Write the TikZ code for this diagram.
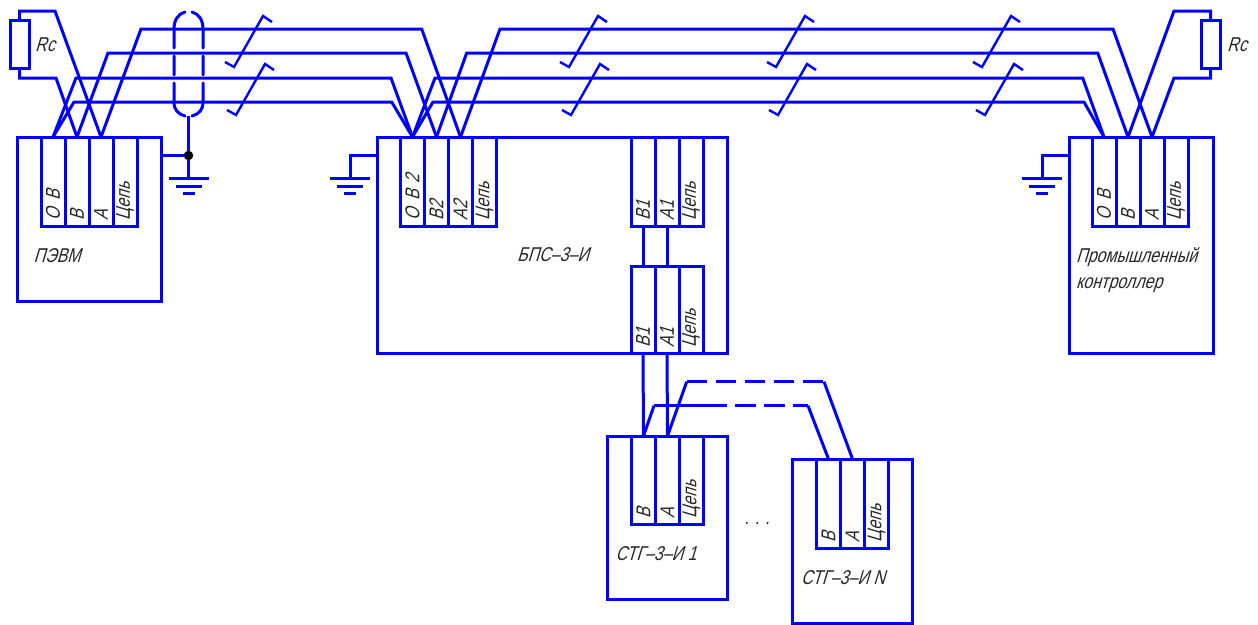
\documentclass[tikz,border=0pt]{standalone}
\usepackage{fontspec}
\newfontfamily\gostfont[FakeSlant=0.3,FakeStretch=0.8]{Liberation Sans}

\begin{document}
\begin{tikzpicture}[x=1pt,y=-1pt,color=blue,line width=3pt,
                    every node/.style={outer sep=0pt},
                    unit box/.style={draw,rectangle,inner sep=0pt},
                    cell node/.style={draw,rectangle,rotate=90,minimum height=24pt,
                      text width=77pt,inner xsep=6pt,inner ysep=0pt,align=left,
                      text=black!85,font=\gostfont\fontsize{20}{22}\selectfont},
                    text node/.style={text=black!85,inner sep=0pt,
                      font=\gostfont\fontsize{20}{26}\selectfont},
                    break mark/.style={line width=2.4pt,
                      insert path={-- ++(9,5) -- ++(29,-51) -- ++(9,6)}}]

  \path[use as bounding box] (0,0) rectangle (1258,624);

  \node[unit box,minimum width=144pt,minimum height=164pt] (pc) at (89,219) {};
  \node[unit box,minimum width=350pt,minimum height=216pt] (bps) at (552,245) {};
  \node[unit box,minimum width=144pt,minimum height=216pt] (ctrl) at (1141,245) {};
  \node[unit box,minimum width=120pt,minimum height=163pt] (stgA) at (667,517.5) {};
  \node[unit box,minimum width=120pt,minimum height=164pt] (stgN) at (852,541) {};

  \node[unit box,minimum width=19pt,minimum height=48pt] (resL) at (19.5,44) {};
  \node[unit box,minimum width=19pt,minimum height=48pt] (resR) at (1210.5,44) {};

  \node[cell node] (pcO) at (53,181.5) {О В};
  \node[cell node] (pcB) at (77,181.5) {В};
  \node[cell node] (pcA) at (101,181.5) {А};
  \node[cell node] (pcC) at (125,181.5) {Цепь};

  \node[cell node] (bpsO) at (412.5,181.5) {О В 2};
  \node[cell node] (bpsB) at (436.5,181.5) {В2};
  \node[cell node] (bpsA) at (460.5,181.5) {А2};
  \node[cell node] (bpsC) at (484.5,181.5) {Цепь};

  \node[cell node] (topB) at (643,181.5) {В1};
  \node[cell node] (topA) at (667,181.5) {А1};
  \node[cell node] (topC) at (691,181.5) {Цепь};

  \node[cell node,text width=75pt] (lowB) at (643,309.5) {В1};
  \node[cell node,text width=75pt] (lowA) at (667,309.5) {А1};
  \node[cell node,text width=75pt] (lowC) at (691,309.5) {Цепь};

  \node[cell node] (ctrlO) at (1104,181.5) {О В};
  \node[cell node] (ctrlB) at (1128,181.5) {В};
  \node[cell node] (ctrlA) at (1152,181.5) {А};
  \node[cell node] (ctrlC) at (1176,181.5) {Цепь};

  \node[cell node,text width=76pt] (stgAB) at (643.5,480) {В};
  \node[cell node,text width=76pt] (stgAA) at (667.5,480) {А};
  \node[cell node,text width=76pt] (stgAC) at (691.5,480) {Цепь};

  \node[cell node] (stgNB) at (828.5,503.5) {В};
  \node[cell node] (stgNA) at (852.5,503.5) {А};
  \node[cell node] (stgNC) at (876.5,503.5) {Цепь};

  \node[text node] (pcName) at (57,256) {ПЭВМ};
  \node[text node] (bpsName) at (553,255) {БПС–3–И};
  \node[text node,align=left,anchor=west] (ctrlName) at (1076,270) {Промышленный\\контроллер};
  \node[text node] (stgAName) at (656,554) {СТГ–3–И 1};
  \node[text node] (stgNName) at (843,578) {СТГ–3–И N};
  \node[text node] (resLName) at (45,45) {Rc};
  \node[text node] (resRName) at (1237,45) {Rc};
  \node[text node] (dots) at (757,523) {. . .};

  \coordinate (busAa) at (141,29);
  \coordinate (busAb) at (421.7,29);
  \coordinate (busBa) at (108,53);
  \coordinate (busBb) at (406,53);
  \coordinate (busCa) at (76,78);
  \coordinate (busCb) at (391,78);
  \coordinate (busDa) at (74,102);
  \coordinate (busDb) at (391.7,102);

  \coordinate (busAc) at (500,29);
  \coordinate (busAd) at (1113,29);
  \coordinate (busBc) at (466.7,53);
  \coordinate (busBd) at (1097.7,53);
  \coordinate (busCc) at (435,78);
  \coordinate (busCd) at (1082.7,78);
  \coordinate (busDc) at (433,102);
  \coordinate (busDd) at (1084,102);

  \draw (pcA.east) -- (busAa) -- (busAb) -- (bpsA.east);
  \draw (pcB.east) -- (busBa) -- (busBb) -- (bpsB.east);
  \draw (pcO.east) -- (busCa) -- (busCb) -- (bpsO.east);
  \draw (pcO.east) -- (busDa) -- (busDb) -- (bpsO.east);

  \draw (bpsA.east) -- (busAc) -- (busAd) -- (ctrlA.east);
  \draw (bpsB.east) -- (busBc) -- (busBd) -- (ctrlB.east);
  \draw (bpsO.east) -- (busCc) -- (busCd) -- (ctrlO.east);
  \draw (bpsO.east) -- (busDc) -- (busDd) -- (ctrlO.east);

  \coordinate (resLt) at (55,11);
  \coordinate (resLb) at (56,78);
  \coordinate (resRt) at (1174,11);
  \coordinate (resRb) at (1174,78);

  \draw (resL.north) |- (resLt) -- (pcA.east);
  \draw (resL.south) |- (resLb) -- (pcB.east);
  \draw (resR.north) |- (resRt) -- (ctrlB.east);
  \draw (resR.south) |- (resRb) -- (ctrlA.east);

  \path (topB.west) edge (lowB.east)
        (topA.west) edge (lowA.east)
        (lowB.west) edge (stgAB.east)
        (lowA.west) edge (stgAA.east);

  \coordinate (linkAa) at (654,405.7);
  \coordinate (linkAb) at (808,405.7);
  \coordinate (linkBa) at (686.7,381.7);
  \coordinate (linkBb) at (824,381.7);

  \draw (stgAB.east) -- (linkAa);
  \draw[dash pattern=on 73pt off 8pt on 21pt off 8pt on 21pt off 8pt on 20pt] (linkAa) -- (linkAb);
  \draw (linkAb) -- (stgNB.east);
  \draw (stgAA.east) -- (linkBa);
  \draw[dash pattern=on 20.5pt off 8.5pt] (linkBa) -- (linkBb);
  \draw (linkBb) -- (stgNA.east);

  \coordinate (gndPc) at (188.5,178);
  \coordinate (gndBps) at (350,178);
  \coordinate (gndCtrl) at (1042,178);
  \coordinate (shieldEnd) at (188.5,116);

  \node[circle,fill=black,minimum size=9.5pt,inner sep=0pt] (gndDot) at (188.5,155.5) {};

  \draw (pc.east |- gndDot) -- (gndDot);
  \draw (shieldEnd) -- (gndDot) -- (gndPc);
  \draw (bps.west |- gndDot) -| (gndBps);
  \draw (ctrl.west |- gndDot) -| (gndCtrl);

  \draw (gndPc) ++(-20,0) -- ++(40,0) ++(-33,8) -- ++(26,0) ++(-19,7) -- ++(12,0);
  \draw (gndBps) ++(-20,0) -- ++(40,0) ++(-33,8) -- ++(26,0) ++(-19,7) -- ++(12,0);
  \draw (gndCtrl) ++(-20,0) -- ++(40,0) ++(-33,8) -- ++(26,0) ++(-19,7) -- ++(12,0);

  \draw[line cap=round] (185,12) .. controls (178,14) and (174,20) .. (174,29) -- (174,48)
    (174,56) -- (174,75)
    (174,83) -- (174,102) .. controls (174,110) and (178,114) .. (185,116);
  \draw[line cap=round] (192,12) .. controls (199,14) and (203,20) .. (203,29) -- (203,48)
    (203,56) -- (203,75)
    (203,83) -- (203,102) .. controls (203,110) and (199,114) .. (192,116);

  \draw (225,62) [break mark];
  \draw (227,110) [break mark];
  \draw (560,62) [break mark];
  \draw (562,110) [break mark];
  \draw (767,62) [break mark];
  \draw (769,110) [break mark];
  \draw (973,62) [break mark];
  \draw (976,110) [break mark];
\end{tikzpicture}
\end{document}
